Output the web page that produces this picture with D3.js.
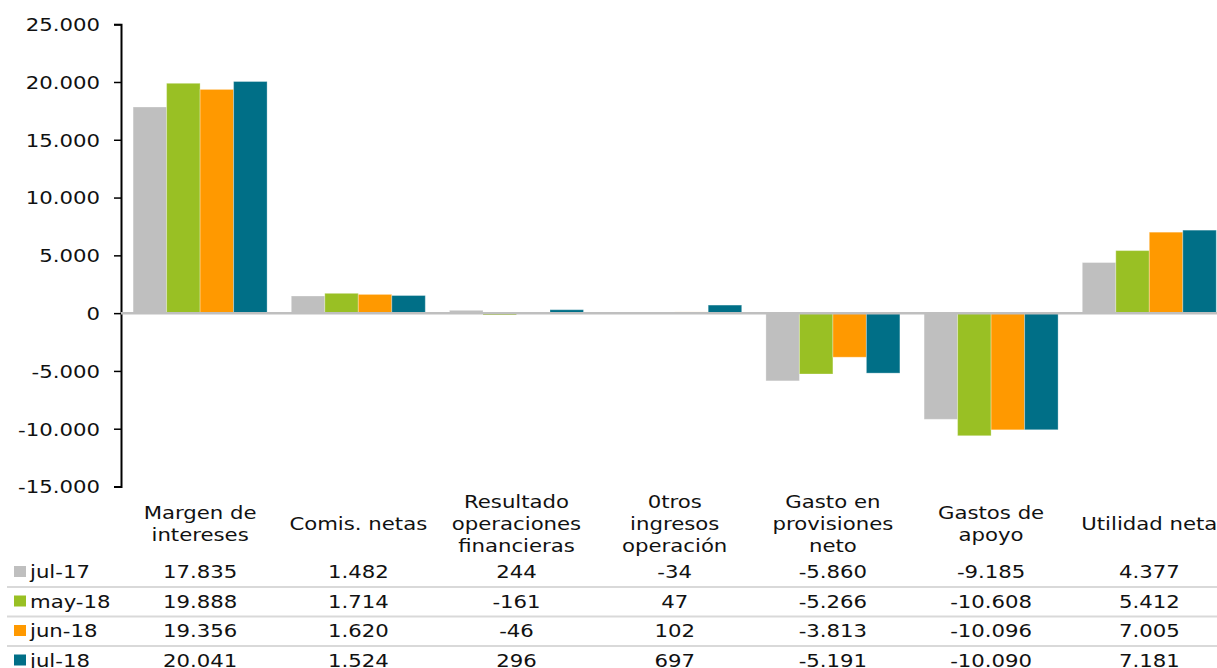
<!DOCTYPE html>
<html>
<head>
<meta charset="utf-8">
<script src="https://cdn.jsdelivr.net/npm/d3@7/dist/d3.min.js"></script>
<style>
  html, body { margin: 0; padding: 0; background: #fff; }
  svg { display: block; }
  text { font-family: "DejaVu Sans", Verdana, sans-serif; font-size: 18px; fill: #111; }
</style>
</head>
<body>
<div id="chart"></div>
<script>
// datos
var categories = [
    ['Margen de', 'intereses'],
    ['Comis. netas'],
    ['Resultado', 'operaciones', 'financieras'],
    ['0tros', 'ingresos', 'operación'],
    ['Gasto en', 'provisiones', 'neto'],
    ['Gastos de', 'apoyo'],
    ['Utilidad neta']
]
var seriesNames = ['jul-17', 'may-18', 'jun-18', 'jul-18']
var jul17 = [17835, 1482, 244, -34, -5860, -9185, 4377]
var may18 = [19888, 1714, -161, 47, -5266, -10608, 5412]
var jun18 = [19356, 1620, -46, 102, -3813, -10096, 7005]
var jul18 = [20041, 1524, 296, 697, -5191, -10090, 7181]
var yTicks = [-15000, -10000, -5000, 0, 5000, 10000, 15000, 20000, 25000]

var seriesValues = [jul17, may18, jun18, jul18]
var colors = ['#bfbfbf', '#99c024', '#ff9900', '#006f87']

var width = 1217
var height = 668
var sx = 1.18 // el texto original va estirado en horizontal

var locale = d3.formatLocale({ decimal: ',', thousands: '.', grouping: [3], currency: ['', ''], minus: '-' })
var fmt = locale.format(',d')

var svg = d3.select('#chart').append('svg')
    .attr('width', width)
    .attr('height', height)

//escalas
var catIdx = d3.range(categories.length)
var X0 = d3.scaleBand().domain(catIdx).range([121, 121 + 7 * 158.2])
    .paddingInner(0.153).paddingOuter(0.0765)
var X1 = d3.scaleBand().domain(d3.range(seriesNames.length)).range([0, X0.bandwidth()])
var Y = d3.scaleLinear().domain([-15000, 25000]).range([486.5, 24.2])

function stretchedText(g, x, y, str, anchor) {
    g.append('text')
        .attr('transform', 'translate(' + x + ',' + y + ') scale(' + sx + ',1)')
        .attr('text-anchor', anchor)
        .text(str)
}

// eje Y
var yAxisG = svg.append('g')
    .attr('transform', 'translate(121,0)')
yAxisG.call(d3.axisLeft(Y).tickValues(yTicks).tickSize(7).tickFormat(fmt))
yAxisG.select('.domain').attr('stroke', '#000').attr('stroke-width', 2)
yAxisG.selectAll('.tick line').attr('stroke', '#000').attr('stroke-width', 1.5)
yAxisG.selectAll('.tick text').remove()
yAxisG.selectAll('.tick').each(function (d) {
    d3.select(this).append('text')
        .attr('transform', 'translate(-21,0) scale(' + sx + ',1)')
        .attr('text-anchor', 'end')
        .attr('dy', '0.35em')
        .text(fmt(d))
})

// barras
var rows = []
seriesValues.forEach(function (vals, s) {
    vals.forEach(function (v, c) { rows.push({ s: s, c: c, v: v }) })
})
svg.append('g').attr('class', 'bars')
    .selectAll('rect')
    .data(rows)
    .enter()
    .append('rect')
    .attr('x', function (d) { return X0(d.c) + X1(d.s) })
    .attr('width', X1.bandwidth())
    .attr('y', function (d) { return Y(Math.max(0, d.v)) })
    .attr('height', function (d) { return Math.abs(Y(d.v) - Y(0)) })
    .attr('fill', function (d) { return colors[d.s] })
    .attr('stroke', 'rgba(255,255,255,0.3)')
    .attr('stroke-width', 1)

// linea del cero
svg.append('line')
    .attr('x1', 121).attr('x2', width)
    .attr('y1', Y(0)).attr('y2', Y(0))
    .attr('stroke', '#bfbfbf')
    .attr('stroke-width', 2.5)

// etiquetas de categorias
var labG = svg.append('g')
categories.forEach(function (lines, c) {
    var cx = X0(c) + X0.bandwidth() / 2
    lines.forEach(function (t, i) {
        var y = 530 + (i - (lines.length - 1) / 2) * 22
        stretchedText(labG, cx, y, t, 'middle')
    })
})

// tabla de datos
var rowY = [578, 607.5, 637, 666.5]
var sepY = [587, 616.5, 646]
var tableG = svg.append('g')
sepY.forEach(function (y) {
    tableG.append('line')
        .attr('x1', 7).attr('x2', width)
        .attr('y1', y).attr('y2', y)
        .attr('stroke', '#d9d9d9')
        .attr('stroke-width', 2)
})
seriesNames.forEach(function (name, s) {
    tableG.append('rect')
        .attr('x', 14).attr('y', rowY[s] - 12)
        .attr('width', 12).attr('height', 11)
        .attr('fill', colors[s])
    stretchedText(tableG, 30, rowY[s], name, 'start')
    seriesValues[s].forEach(function (v, c) {
        stretchedText(tableG, X0(c) + X0.bandwidth() / 2, rowY[s], fmt(v), 'middle')
    })
})
</script>
</body>
</html>
